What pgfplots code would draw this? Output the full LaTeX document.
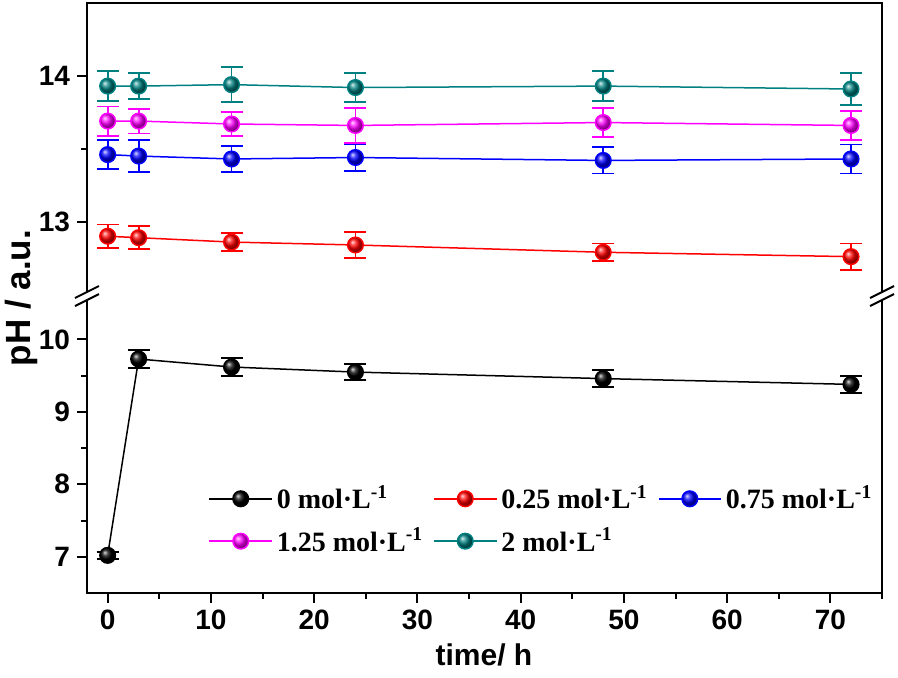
\documentclass[border=0pt]{standalone}
\usepackage{pgfplots}
\pgfplotsset{compat=1.18}
\usepackage{pgfplotstable}
\usepackage{fontspec}
\setmainfont{Liberation Serif}
\setsansfont{Liberation Sans}
\usetikzlibrary{plotmarks}
\definecolor{myteal}{RGB}{0,128,128}
\definecolor{mymag}{RGB}{255,0,255}

\pgfplotstableread{
x y e
0 7.02 0.05
3 9.73 0.12
12 9.62 0.12
24 9.55 0.11
48 9.46 0.12
72 9.38 0.12
}\tzero
\pgfplotstableread{
x y e
0 12.90 0.08
3 12.89 0.08
12 12.86 0.06
24 12.84 0.09
48 12.79 0.06
72 12.76 0.09
}\tred
\pgfplotstableread{
x y e
0 13.46 0.10
3 13.45 0.11
12 13.43 0.09
24 13.44 0.09
48 13.42 0.09
72 13.43 0.10
}\tblue
\pgfplotstableread{
x y e
0 13.69 0.10
3 13.69 0.085
12 13.67 0.08
24 13.66 0.12
48 13.68 0.10
72 13.66 0.10
}\tmag
\pgfplotstableread{
x y e
0 13.93 0.105
3 13.93 0.09
12 13.94 0.12
24 13.92 0.10
48 13.93 0.105
72 13.91 0.11
}\tteal

\pgfplotsset{
  common/.style={
    scale only axis, width=397.5pt, xmin=-2, xmax=75,
    tick align=outside, tick pos=left,
    axis line style={draw=none},
    major tick length=5pt, minor tick length=3pt,
    every tick/.append style={black, line width=1pt},
    tick label style={font=\sffamily\bfseries\fontsize{14}{14}\selectfont},
    /pgf/number format/assume math mode=true,
    clip=false,
  },
  ser/.style={#1, line width=0.75pt, mark=ball, mark size=3.9pt, mark options={ball color=#1},
    error bars/.cd, y dir=both, y explicit,
    error bar style={line width=0.9pt, #1},
    error mark options={rotate=90, mark size=5.5pt, line width=0.9pt, #1}},
}

\begin{document}
\begin{tikzpicture}
\useasboundingbox (0,0) rectangle (449pt,338.5pt);
\begin{axis}[common, name=lower, at={(43.5pt,42pt)}, anchor=south west,
  height=148.5pt, ymin=6.5, ymax=10.6,
  ytick={7,8,9,10}, minor ytick={7.5,8.5,9.5},
  xtick={0,10,...,70}, minor xtick={5,15,...,75},
  legend columns=3,
  legend image code/.code={\draw[mark repeat=2,mark phase=2,#1] plot coordinates {(0cm,0cm)(0.55cm,0cm)(1.1cm,0cm)};},
  legend style={at={(0.145,0.39)}, anchor=north west, draw=none, fill=none,
    font=\bfseries\fontsize{14}{16}\selectfont, row sep=4pt,
    /tikz/every even column/.append style={column sep=3pt}},
  legend cell align=left,
]
\addplot[ser=black] table[x=x,y=y,y error=e] {\tzero};
\addlegendentry{0 mol·L\textsuperscript{-1}}
\addlegendimage{red, line width=0.75pt, mark=ball, mark size=3.9pt, mark options={ball color=red}}
\addlegendentry{0.25 mol·L\textsuperscript{-1}}
\addlegendimage{blue, line width=0.75pt, mark=ball, mark size=3.9pt, mark options={ball color=blue}}
\addlegendentry{0.75 mol·L\textsuperscript{-1}}
\addlegendimage{mymag, line width=0.75pt, mark=ball, mark size=3.9pt, mark options={ball color=mymag}}
\addlegendentry{1.25 mol·L\textsuperscript{-1}}
\addlegendimage{myteal, line width=0.75pt, mark=ball, mark size=3.9pt, mark options={ball color=myteal}}
\addlegendentry{2 mol·L\textsuperscript{-1}}
\end{axis}
\begin{axis}[common, name=upper, at={(43.5pt,190.5pt)}, anchor=south west,
  height=146.5pt, ymin=12.49, ymax=14.5,
  ytick={13,14}, minor ytick={13.5}, xtick=\empty, minor xtick={},
]
\addplot[ser=red] table[x=x,y=y,y error=e] {\tred};
\addplot[ser=blue] table[x=x,y=y,y error=e] {\tblue};
\addplot[ser=mymag] table[x=x,y=y,y error=e] {\tmag};
\addplot[ser=myteal] table[x=x,y=y,y error=e] {\tteal};
\end{axis}
\draw[line width=1pt] (lower.south west) rectangle (upper.north east);
\foreach \bx in {43.5pt,441pt}{
  \begin{scope}[shift={(\bx,190.5pt)}]
    \fill[white] (-6pt,-5pt) -- (6pt,1pt) -- (6pt,5pt) -- (-6pt,-1pt) -- cycle;
    \draw[line width=1pt] (-6pt,-5pt) -- (6pt,1pt);
    \draw[line width=1pt] (-6pt,-1pt) -- (6pt,5pt);
  \end{scope}
}
\node[rotate=90, font=\sffamily\bfseries\fontsize{17.5}{17.5}\selectfont] at (10.5pt,189.5pt) {pH / a.u.};
\node[font=\sffamily\bfseries\fontsize{15}{15}\selectfont] at (242pt,11pt) {time/ h};
\end{tikzpicture}
\end{document}
